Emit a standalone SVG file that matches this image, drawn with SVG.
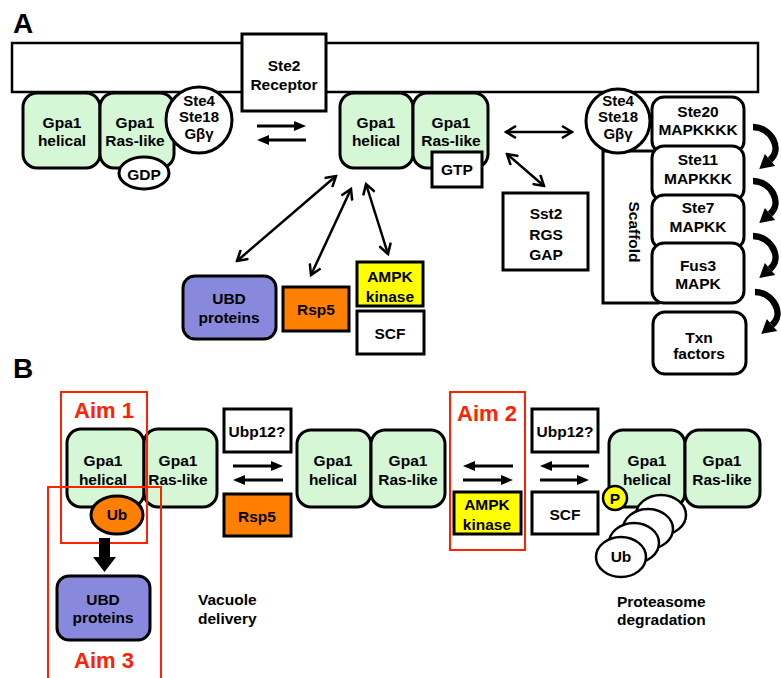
<svg xmlns="http://www.w3.org/2000/svg" width="781" height="678" viewBox="0 0 781 678">
<style>
text{font-family:"Liberation Sans",Arial,sans-serif;font-weight:bold;font-size:15.5px;text-anchor:middle;fill:#000}
.lbl{font-size:28px;text-anchor:start}
.aim{fill:#ff2200;font-size:22px}
.st{text-anchor:start}
.sm{font-size:15px}
.n{stroke:#000;stroke-width:3}
.g{fill:#d6f7d6}
.w{fill:#fff}
.o{fill:#ff8000}
.y{fill:#ffff00}
.u{fill:#8888dd}
.red{fill:none;stroke:#ff2200;stroke-width:2}
.ln{stroke:#000;stroke-width:3;fill:none}
.dl{stroke:#000;stroke-width:2.5;fill:none}
</style>
<defs>
<marker id="t" viewBox="0 0 12 10" refX="6" refY="5" markerWidth="12" markerHeight="10" markerUnits="userSpaceOnUse" orient="auto"><path d="M0,0 L12,5 L0,10 z" fill="#000"/></marker>
<marker id="v" viewBox="0 0 14 14" refX="12" refY="7" markerWidth="14" markerHeight="14" markerUnits="userSpaceOnUse" orient="auto-start-reverse"><path d="M2,1 L12,7 L2,13" fill="none" stroke="#000" stroke-width="2.5"/></marker>
<g id="curl"><path d="M0,0 C18,0 30,22 17,33" fill="none" stroke="#000" stroke-width="6.5"/><polygon points="22.2,39.1 6.3,42 11.8,26.9" fill="#000"/></g>
</defs>
<rect width="781" height="678" fill="#fff"/>
<text class="lbl" x="13" y="33">A</text>
<text class="lbl" x="13" y="378">B</text>
<g id="membrane"><rect x="12" y="43" width="746" height="49" fill="#fff" stroke="#000" stroke-width="2.5"/></g>
<g id="ste2"><rect class="n w" x="242" y="34" width="84" height="77"/><text x="284" y="71">Ste2</text><text x="284" y="90">Receptor</text></g>
<g id="gpa1-a-left">
<rect class="n g" x="23" y="93" width="77" height="75" rx="14"/>
<rect class="n g" x="100" y="93" width="74" height="75" rx="14"/>
<text x="62" y="128">Gpa1</text><text x="62" y="146">helical</text>
<text x="135" y="128">Gpa1</text><text x="135" y="146">Ras-like</text>
</g>
<g id="gbg-left"><circle class="n w" cx="199" cy="120" r="33"/><text class="sm" x="199" y="106">Ste4</text><text class="sm" x="199" y="122">Ste18</text><text class="sm" x="199" y="139">Gβγ</text></g>
<g id="gdp"><ellipse class="n w" cx="144" cy="173" rx="25" ry="16"/><text x="144" y="180">GDP</text></g>
<g id="gpa1-a-mid">
<rect class="n g" x="340" y="93" width="73" height="75" rx="14"/>
<rect class="n g" x="413" y="93" width="75" height="75" rx="14"/>
<text x="376" y="128">Gpa1</text><text x="376" y="146">helical</text>
<text x="451" y="128">Gpa1</text><text x="451" y="146">Ras-like</text>
</g>
<g id="gtp"><rect class="n w" x="432" y="152" width="50" height="35"/><text x="457" y="175">GTP</text></g>
<g id="sst2"><rect class="n w" x="503" y="193" width="85" height="77"/><text x="546" y="219">Sst2</text><text x="546" y="240">RGS</text><text x="546" y="260">GAP</text></g>
<g id="scaffold"><rect class="n w" x="603" y="151" width="55" height="152"/><text transform="translate(634,232) rotate(90)" x="0" y="5">Scaffold</text></g>
<g id="gbg-right"><circle class="n w" cx="618" cy="121" r="32"/><text class="sm" x="618" y="106">Ste4</text><text class="sm" x="618" y="122">Ste18</text><text class="sm" x="618" y="139">Gβγ</text></g>
<g id="ste20"><rect class="n w" x="652" y="97" width="92" height="56" rx="12"/><text x="698" y="117">Ste20</text><text x="698" y="135">MAPKKKK</text></g>
<g id="ste11"><rect class="n w" x="652" y="146" width="92" height="55" rx="12"/><text x="698" y="165">Ste11</text><text x="698" y="184">MAPKKK</text></g>
<g id="ste7"><rect class="n w" x="652" y="195" width="92" height="54" rx="12"/><text x="698" y="213">Ste7</text><text x="698" y="232">MAPKK</text></g>
<g id="fus3"><rect class="n w" x="652" y="243" width="92" height="60" rx="12"/><text x="698" y="271">Fus3</text><text x="698" y="289">MAPK</text></g>
<g id="txn"><rect class="n w" x="653" y="312" width="93" height="62" rx="12"/><text x="699" y="343">Txn</text><text x="699" y="359">factors</text></g>
<g id="ubd-a"><rect class="n u" x="183" y="276" width="93" height="63" rx="12"/><text x="229" y="304">UBD</text><text x="229" y="323">proteins</text></g>
<g id="rsp5-a"><rect class="n o" x="283" y="287" width="66" height="44"/><text x="316" y="315">Rsp5</text></g>
<g id="ampk-a"><rect class="n y" x="357" y="262" width="66" height="44"/><text x="390" y="282">AMPK</text><text x="390" y="302">kinase</text></g>
<g id="scf-a"><rect class="n w" x="357" y="311" width="67" height="43"/><text x="390" y="339">SCF</text></g>
<g id="gpa1-b-left">
<rect class="n g" x="67" y="429" width="77" height="78" rx="14"/>
<rect class="n g" x="144" y="429" width="73" height="78" rx="14"/>
<text x="103" y="466">Gpa1</text><text x="103" y="485">helical</text>
<text x="178" y="466">Gpa1</text><text x="178" y="485">Ras-like</text>
</g>
<g id="ub-left"><ellipse class="n o" cx="117" cy="515" rx="26" ry="19"/><text x="117" y="520">Ub</text></g>
<g id="ubd-b"><rect class="n u" x="57" y="576" width="93" height="64" rx="12"/><text x="103" y="605">UBD</text><text x="103" y="623">proteins</text></g>
<g id="ubp12-1"><rect class="n w" x="224" y="409" width="67" height="43"/><text x="257" y="437">Ubp12?</text></g>
<g id="rsp5-b"><rect class="n o" x="224" y="494" width="67" height="42"/><text x="257" y="522">Rsp5</text></g>
<g id="gpa1-b-mid">
<rect class="n g" x="297" y="430" width="74" height="77" rx="14"/>
<rect class="n g" x="371" y="430" width="74" height="77" rx="14"/>
<text x="333" y="466">Gpa1</text><text x="333" y="485">helical</text>
<text x="408" y="466">Gpa1</text><text x="408" y="485">Ras-like</text>
</g>
<g id="vacuole"><text class="st" x="198" y="605">Vacuole</text><text class="st" x="198" y="624">delivery</text></g>
<g id="ampk-b"><rect class="n y" x="454" y="492" width="67" height="42"/><text x="487" y="510">AMPK</text><text x="487" y="530">kinase</text></g>
<g id="ubp12-2"><rect class="n w" x="532" y="409" width="66" height="43"/><text x="565" y="437">Ubp12?</text></g>
<g id="scf-b"><rect class="n w" x="532" y="492" width="66" height="42"/><text x="565" y="520">SCF</text></g>
<g id="gpa1-b-right">
<rect class="n g" x="609" y="430" width="76" height="77" rx="14"/>
<rect class="n g" x="685" y="430" width="75" height="77" rx="14"/>
<text x="647" y="466">Gpa1</text><text x="647" y="485">helical</text>
<text x="722" y="466">Gpa1</text><text x="722" y="485">Ras-like</text>
</g>
<g id="p"><circle cx="615" cy="498" r="12" fill="#ffff00" stroke="#000" stroke-width="2.5"/><text x="615" y="504">P</text></g>
<g id="ub-chain">
<ellipse class="w" cx="661" cy="515" rx="25" ry="20" stroke="#000" stroke-width="2.5"/>
<ellipse class="w" cx="648" cy="529" rx="25" ry="20" stroke="#000" stroke-width="2.5"/>
<ellipse class="w" cx="634" cy="543" rx="25" ry="20" stroke="#000" stroke-width="2.5"/>
<ellipse class="w" cx="621" cy="557" rx="25" ry="20" stroke="#000" stroke-width="2.5"/>
<text x="621" y="562">Ub</text>
</g>
<g id="proteasome"><text class="st" x="617" y="607">Proteasome</text><text class="st" x="617" y="625">degradation</text></g>
<g id="aims">
<rect class="red" x="61" y="392" width="86" height="151"/>
<text class="aim" x="104" y="418">Aim 1</text>
<rect class="red" x="48" y="487" width="113" height="200"/>
<text class="aim" x="104" y="668">Aim 3</text>
<rect class="red" x="450" y="392" width="75" height="158"/>
<text class="aim" x="487" y="421">Aim 2</text>
</g>
<g id="connectors">
<line class="ln" x1="257" y1="126" x2="300" y2="126" marker-end="url(#t)"/>
<line class="ln" x1="306" y1="140" x2="263" y2="140" marker-end="url(#t)"/>
<line class="dl" x1="506" y1="132" x2="572" y2="132" marker-start="url(#v)" marker-end="url(#v)"/>
<line class="dl" x1="507" y1="154" x2="544" y2="186" marker-start="url(#v)" marker-end="url(#v)"/>
<line class="dl" x1="237" y1="261" x2="336" y2="176" marker-start="url(#v)" marker-end="url(#v)"/>
<line class="dl" x1="311" y1="275" x2="351" y2="189" marker-start="url(#v)" marker-end="url(#v)"/>
<line class="dl" x1="366" y1="184" x2="388" y2="254" marker-start="url(#v)" marker-end="url(#v)"/>
<use href="#curl" x="753" y="127"/>
<use href="#curl" x="753" y="181"/>
<use href="#curl" x="753" y="236"/>
<use href="#curl" x="755" y="292"/>
<polygon points="99,538 110,538 110,557 116,557 104.5,572 93,557 99,557" fill="#000"/>
<line class="ln" x1="233" y1="466" x2="277" y2="466" marker-end="url(#t)"/>
<line class="ln" x1="283" y1="480" x2="239" y2="480" marker-end="url(#t)"/>
<line class="ln" x1="513" y1="466" x2="469" y2="466" marker-end="url(#t)"/>
<line class="ln" x1="463" y1="480" x2="507" y2="480" marker-end="url(#t)"/>
<line class="ln" x1="589" y1="466" x2="546" y2="466" marker-end="url(#t)"/>
<line class="ln" x1="540" y1="480" x2="583" y2="480" marker-end="url(#t)"/>
</g>
</svg>
